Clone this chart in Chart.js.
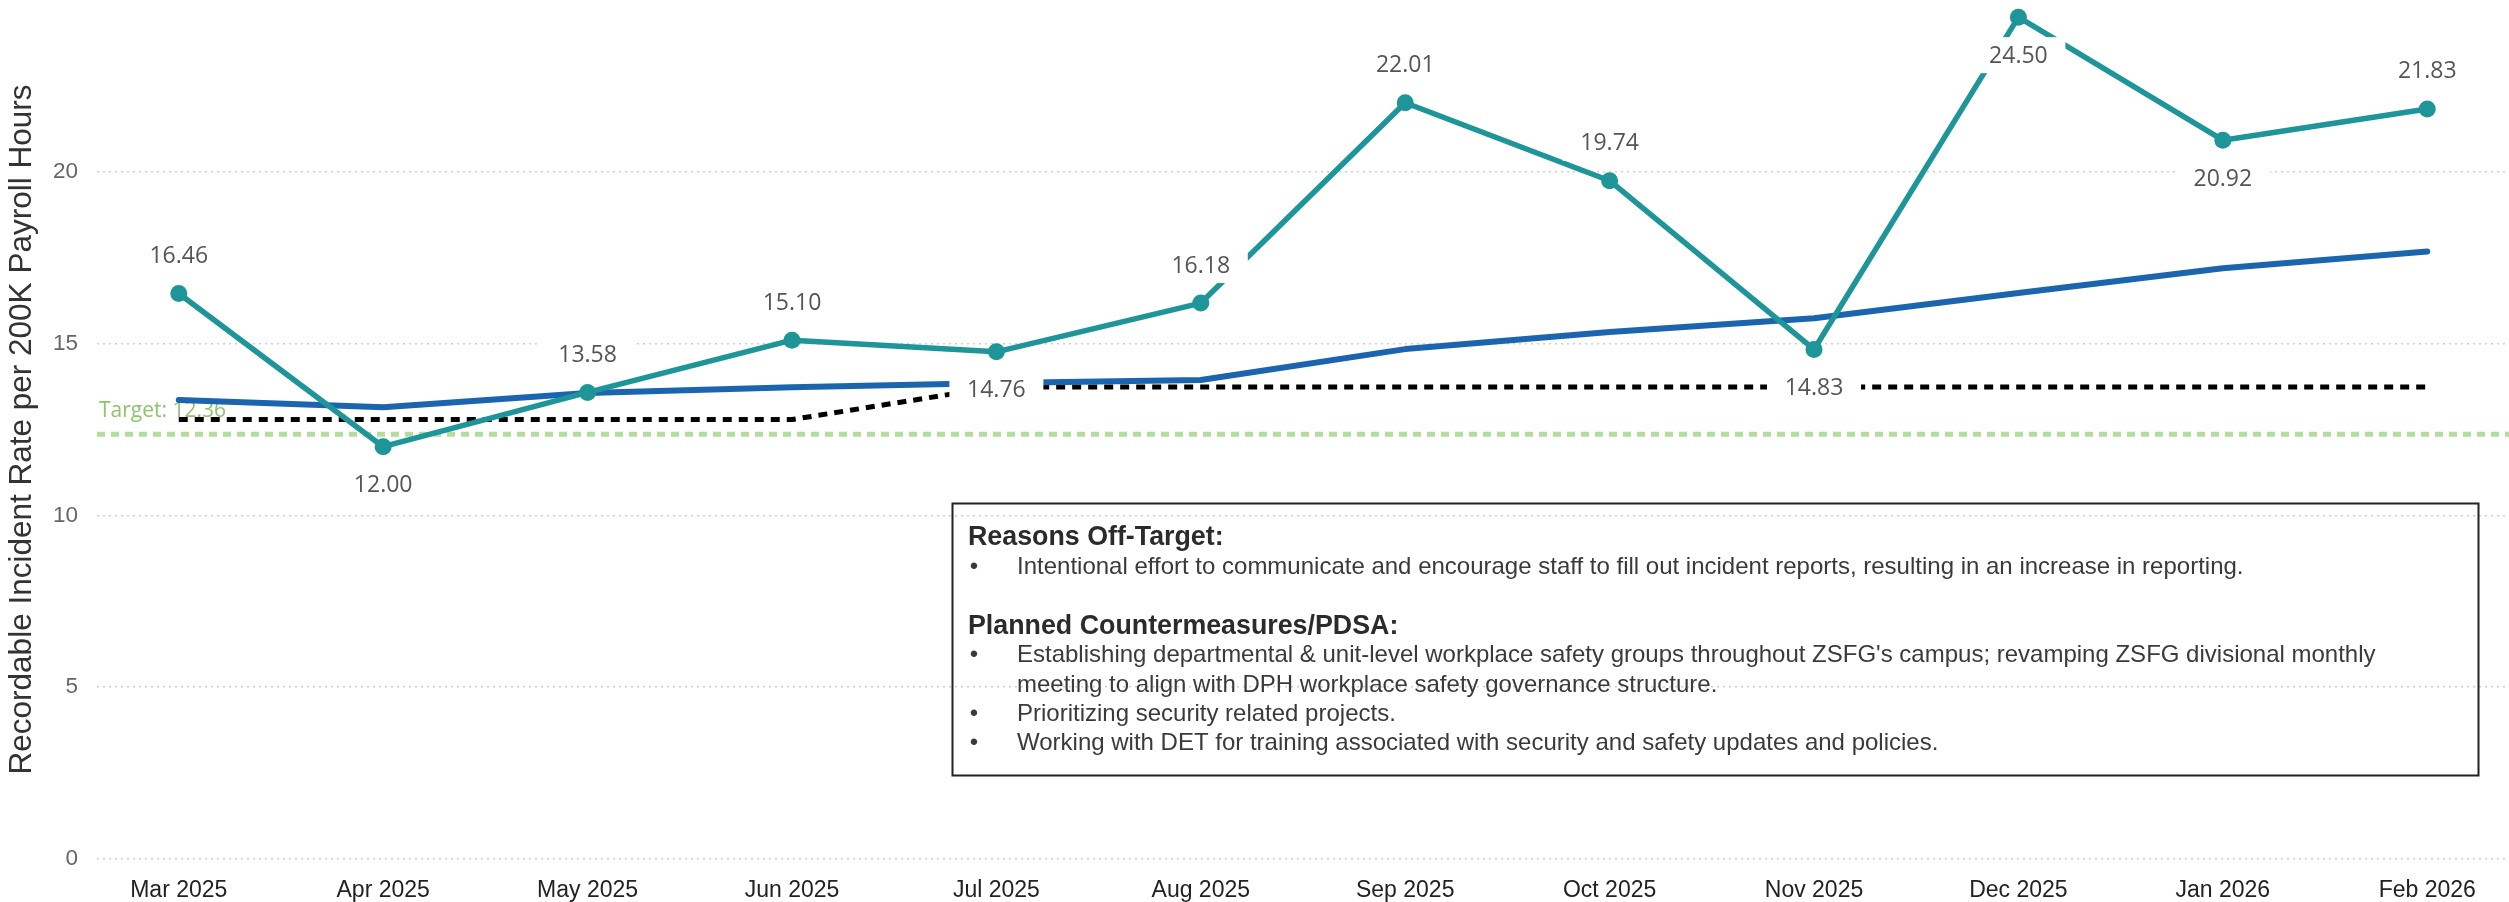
<!DOCTYPE html>
<html>
<head>
<meta charset="utf-8">
<script src="https://cdn.jsdelivr.net/npm/chart.js@4/dist/chart.umd.min.js"></script>
<style>
  html, body { margin: 0; padding: 0; background: #ffffff; }
  #wrap { width: 2509px; height: 902px; position: relative; }
</style>
</head>
<body>
<div id="wrap"><canvas id="c" width="2509" height="902"></canvas></div>
<script>
// ---- Data ----
const months = ['Mar 2025', 'Apr 2025', 'May 2025', 'Jun 2025', 'Jul 2025', 'Aug 2025',
                'Sep 2025', 'Oct 2025', 'Nov 2025', 'Dec 2025', 'Jan 2026', 'Feb 2026'];
const actualRate = [16.46, 12.00, 13.58, 15.10, 14.76, 16.18, 22.01, 19.74, 14.83, 24.50, 20.92, 21.83];
const trendRate = [13.36, 13.15, 13.56, 13.73, 13.85, 13.94, 14.84, 15.34, 15.74, 16.47, 17.19, 17.68];
const benchmarkRate = [12.79, 12.79, 12.79, 12.79, 13.74, 13.74, 13.74, 13.74, 13.74, 13.74, 13.74, 13.74];
const targetRate = 12.36;
const yTicks = [0, 5, 10, 15, 20];
const yTitle = 'Recordable Incident Rate per 200K Payroll Hours';

const reasonsTitle = 'Reasons Off-Target:';
const reasons = [
  ['Intentional effort to communicate and encourage staff to fill out incident reports, resulting in an increase in reporting.']
];
const countermeasuresTitle = 'Planned Countermeasures/PDSA:';
const countermeasures = [
  ["Establishing departmental & unit-level workplace safety groups throughout ZSFG's campus; revamping ZSFG divisional monthly",
   'meeting to align with DPH workplace safety governance structure.'],
  ['Prioritizing security related projects.'],
  ['Working with DET for training associated with security and safety updates and policies.']
];

// ---- Styles ----
const TEAL = '#1E9599';
const BLUE = '#1B65AE';
const GREEN = '#B4DC9C';
const GREEN_TEXT = '#8DC46C';
const ARIAL = '"Liberation Sans", Arial, sans-serif';
const SEGOE = '"Open Sans", "Noto Sans", sans-serif';

const toXY = arr => arr.map((v, i) => ({ x: i, y: v }));

const targetPlugin = {
  id: 'targetLine',
  beforeDatasetsDraw(chart) {
    const { ctx, chartArea, scales } = chart;
    const y = scales.y.getPixelForValue(targetRate);
    ctx.save();
    ctx.strokeStyle = GREEN;
    ctx.lineWidth = 5;
    ctx.setLineDash([8, 6]);
    ctx.beginPath();
    ctx.moveTo(chartArea.left, y);
    ctx.lineTo(chartArea.right, y);
    ctx.stroke();
    ctx.setLineDash([]);
    ctx.font = '21px ' + SEGOE;
    ctx.fillStyle = GREEN_TEXT;
    ctx.textAlign = 'left';
    ctx.textBaseline = 'middle';
    ctx.fillText('Target: ' + targetRate.toFixed(2), chartArea.left + 2, y - 23);
    ctx.restore();
  }
};

const valueLabelPlugin = {
  id: 'valueLabels',
  afterDatasetsDraw(chart) {
    const { ctx, chartArea } = chart;
    const meta = chart.getDatasetMeta(0);
    const n = actualRate.length;
    ctx.save();
    ctx.font = '23px ' + SEGOE;
    ctx.textAlign = 'center';
    ctx.textBaseline = 'middle';
    meta.data.forEach((pt, i) => {
      const v = actualRate[i];
      const prev = i > 0 ? actualRate[i - 1] : Infinity;
      const next = i < n - 1 ? actualRate[i + 1] : Infinity;
      let below = v < prev && v < next;
      const off = 38;
      if (!below && pt.y - off - 18 < chartArea.top) below = true;
      const cy = below ? pt.y + off : pt.y - off;
      ctx.fillStyle = '#ffffff';
      ctx.fillRect(pt.x - 47, cy - 18, 94, 36);
      ctx.fillStyle = '#555555';
      ctx.fillText(v.toFixed(2), pt.x, cy + 1);
    });
    ctx.restore();
  }
};

const notePlugin = {
  id: 'noteBox',
  afterDraw(chart) {
    const { ctx } = chart;
    const bx = 952, by = 503, bw = 1526, bh = 272;
    ctx.save();
    ctx.strokeStyle = '#222222';
    ctx.lineWidth = 2;
    ctx.strokeRect(bx + 0.5, by + 0.5, bw, bh);
    const lh = 29.4;
    let y = by + 35;
    const tx = 968, bulletX = 974, textX = 1017;
    ctx.textBaseline = 'middle';
    const title = (t) => {
      ctx.font = 'bold 26.8px ' + ARIAL;
      ctx.fillStyle = '#2B2B2B';
      ctx.textAlign = 'left';
      ctx.fillText(t, tx, y);
      y += lh;
    };
    const items = (list) => {
      list.forEach(lines => {
        lines.forEach((line, k) => {
          ctx.font = '24px ' + ARIAL;
          ctx.fillStyle = '#3A3A3A';
          if (k === 0) {
            ctx.textAlign = 'center';
            ctx.fillText('\u2022', bulletX, y);
          }
          ctx.textAlign = 'left';
          ctx.fillText(line, textX, y);
          y += lh;
        });
      });
    };
    title(reasonsTitle);
    items(reasons);
    y += lh;
    title(countermeasuresTitle);
    items(countermeasures);
    ctx.restore();
  }
};

new Chart(document.getElementById('c'), {
  type: 'line',
  data: {
    datasets: [
      {
        label: 'Actual',
        data: toXY(actualRate),
        borderColor: TEAL,
        backgroundColor: TEAL,
        borderWidth: 5.5,
        pointRadius: 8.5,
        pointBorderWidth: 0,
        pointBackgroundColor: TEAL,
        borderJoinStyle: 'round',
        borderCapStyle: 'round',
        tension: 0
      },
      {
        label: 'Trend',
        data: toXY(trendRate),
        borderColor: BLUE,
        borderWidth: 6,
        pointRadius: 0,
        borderJoinStyle: 'round',
        borderCapStyle: 'round',
        tension: 0
      },
      {
        label: 'Benchmark',
        data: toXY(benchmarkRate),
        borderColor: '#000000',
        borderWidth: 5,
        borderDash: [9, 7],
        pointRadius: 0,
        tension: 0
      }
    ]
  },
  options: {
    responsive: false,
    animation: false,
    events: [],
    layout: { padding: 0, autoPadding: false },
    plugins: { legend: { display: false }, tooltip: { enabled: false } },
    scales: {
      x: {
        type: 'linear',
        min: -0.4,
        max: 11.4,
        afterBuildTicks: s => { s.ticks = months.map((m, i) => ({ value: i })); },
        afterFit: s => { s.height = 43; s.paddingLeft = 0; s.paddingRight = 0; },
        grid: { display: false },
        border: { display: false },
        ticks: {
          autoSkip: false,
          maxRotation: 0,
          minRotation: 0,
          padding: 10,
          color: '#222222',
          font: { family: ARIAL, size: 23 },
          callback: v => months[v]
        }
      },
      y: {
        min: 0,
        max: 25,
        afterBuildTicks: s => { s.ticks = yTicks.map(v => ({ value: v })); },
        afterFit: s => { s.width = 97; s.paddingTop = 0; s.paddingBottom = 0; },
        grid: { color: '#CFCFCF', lineWidth: 1.5, drawTicks: false },
        border: { display: false, dash: [2, 4] },
        ticks: {
          padding: 19,
          color: '#666666',
          font: { family: ARIAL, size: 22.5 },
          callback: v => String(v)
        },
        title: {
          display: true,
          text: yTitle,
          color: '#333333',
          font: { family: ARIAL, size: 31.5 },
          padding: { top: 3, bottom: 0 }
        }
      }
    }
  },
  plugins: [targetPlugin, valueLabelPlugin, notePlugin]
});
</script>
</body>
</html>
